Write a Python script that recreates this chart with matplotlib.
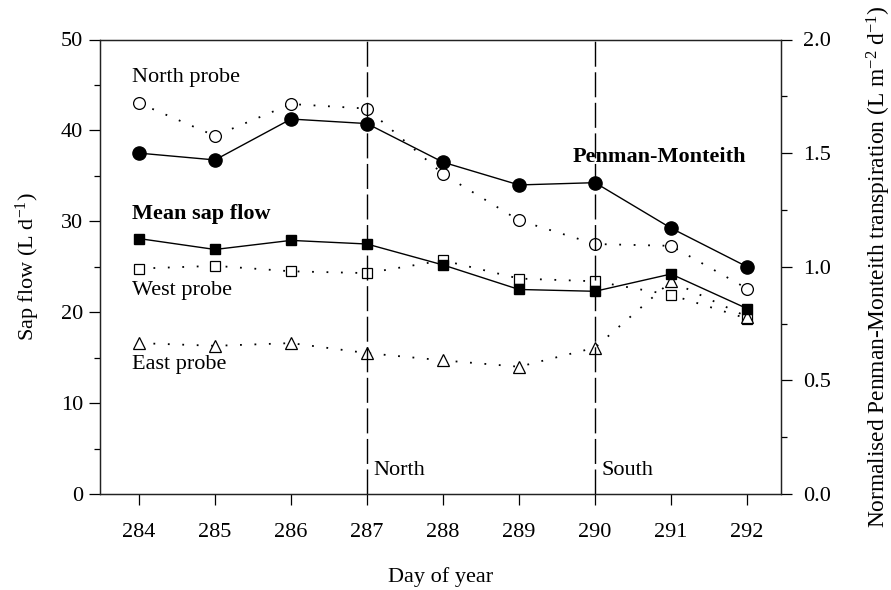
import matplotlib
matplotlib.use("Agg")
import matplotlib.pyplot as plt
from matplotlib.ticker import MultipleLocator

plt.rcParams["font.family"] = ["Liberation Serif", "DejaVu Serif"]
plt.rcParams["mathtext.fontset"] = "custom"
plt.rcParams["mathtext.rm"] = "Liberation Serif"
plt.rcParams["mathtext.it"] = "Liberation Serif:italic"
plt.rcParams["mathtext.bf"] = "Liberation Serif:bold"

# Daily sap flow per probe and the tree mean (L d-1)
days = [284, 285, 286, 287, 288, 289, 290, 291, 292]
mean_sap_flow = [28.1, 26.9, 27.9, 27.5, 25.2, 22.5, 22.3, 24.2, 20.4]
north_probe = [43.0, 39.4, 42.9, 42.4, 35.2, 30.1, 27.5, 27.3, 22.6]
west_probe = [24.8, 25.1, 24.5, 24.3, 25.7, 23.7, 23.4, 21.9, 19.3]
east_probe = [16.6, 16.3, 16.6, 15.5, 14.7, 14.0, 16.1, 23.4, 19.5]

# Normalised Penman-Monteith transpiration (L m-2 d-1)
penman_monteith = [1.50, 1.47, 1.65, 1.63, 1.46, 1.36, 1.37, 1.17, 1.00]

# Days when the probe orientation changed
switch_days = [287, 290]
switch_labels = ["North", "South"]

FS = 16
W, H = 891, 590
fig = plt.figure(figsize=(W / 100, H / 100), dpi=100)
ax = fig.add_axes([100 / W, 96 / H, 681 / W, 454.5 / H])
ax2 = ax.twinx()

ax.set_xlim(283.487, 292.447)
ax.set_ylim(0, 50)
ax2.set_ylim(0, 2.0)

dotted = (0, (1, 7))

ax.plot(days, north_probe, linestyle=dotted, color="black", lw=1.3,
        marker="o", ms=8.5, mfc="white", mec="black", mew=0.9, zorder=3)
ax.plot(days, west_probe, linestyle=dotted, color="black", lw=1.3,
        marker="s", ms=7.5, mfc="white", mec="black", mew=0.9, zorder=3)
ax.plot(days, east_probe, linestyle=dotted, color="black", lw=1.3,
        marker="^", ms=8.5, mfc="white", mec="black", mew=0.9, zorder=3)
ax.plot(days, mean_sap_flow, linestyle="-", color="black", lw=1.0,
        marker="s", ms=7.5, mfc="black", mec="black", zorder=4)

for d, lab in zip(switch_days, switch_labels):
    ax.axvline(d, color="black", lw=1.0, dashes=(18, 4), zorder=5)
    ax.text(d + 0.08, 2.6, lab, fontsize=FS, ha="left", va="center")

ax2.plot(days, penman_monteith, linestyle="-", color="black", lw=1.0,
         marker="o", ms=9.5, mfc="black", mec="black", zorder=4)

ax.text(283.91, 45.8, "North probe", fontsize=FS, ha="left", va="center")
ax.text(283.91, 30.8, "Mean sap flow", fontsize=FS, ha="left", va="center",
        fontweight="bold")
ax.text(283.91, 22.4, "West probe", fontsize=FS, ha="left", va="center")
ax.text(283.91, 14.2, "East probe", fontsize=FS, ha="left", va="center")
ax.text(289.71, 37.1, "Penman-Monteith", fontsize=FS, ha="left", va="center",
        fontweight="bold")

ax.set_xticks(days)
ax.set_xticklabels([str(d) for d in days])
ax.yaxis.set_major_locator(MultipleLocator(10))
ax.yaxis.set_minor_locator(MultipleLocator(5))
ax2.yaxis.set_major_locator(MultipleLocator(0.5))
ax2.yaxis.set_minor_locator(MultipleLocator(0.25))
ax2.set_yticklabels([f"{v:.1f}" for v in ax2.get_yticks()])

for a in (ax, ax2):
    for s in a.spines.values():
        s.set_linewidth(0.9)
        s.set_color("#222222")

ax.tick_params(axis="x", which="major", direction="out", length=8,
               width=0.9, pad=13, labelsize=FS)
ax.tick_params(axis="y", which="major", direction="out", length=8,
               width=0.9, pad=4, labelsize=FS)
ax.tick_params(axis="y", which="minor", direction="out", length=4.5,
               width=0.9)
ax2.tick_params(axis="y", which="major", direction="out", length=8,
                width=0.9, pad=8, labelsize=FS)
ax2.tick_params(axis="y", which="minor", direction="out", length=4.5,
                width=0.9)

ax.set_xlabel("Day of year", fontsize=FS, labelpad=18)
ax.set_ylabel(r"Sap flow (L d$^{\mathregular{-1}}$)", fontsize=FS, labelpad=14)
ax2.set_ylabel(r"Normalised Penman-Monteith transpiration (L m$^{\mathregular{-2}}$ d$^{\mathregular{-1}}$)",
               fontsize=16.8, labelpad=24)

fig.savefig("out.png", dpi=100)
